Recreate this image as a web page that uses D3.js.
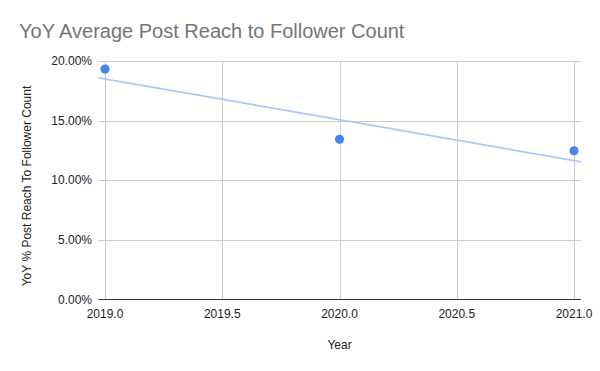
<!DOCTYPE html>
<html>
<head>
<meta charset="utf-8">
<script src="https://cdn.jsdelivr.net/npm/d3@7"></script>
<style>
  body { margin: 0; background: #fff; }
  text { font-family: "Liberation Sans", Arial, sans-serif; }
</style>
</head>
<body>
<div id="chart"></div>
<script>
// data
var years = [2019, 2020, 2021];
var reach = [0.1932, 0.1343, 0.1247];
var xTicks = [2019, 2019.5, 2020, 2020.5, 2021];
var yTicks = [0, 0.05, 0.10, 0.15, 0.20];

var width = 600, height = 371;

// plot area (avoid "top" - it clashes with window.top)
var plotLeft = 105, plotRight = 574, plotTop = 61, plotBottom = 299.5;
var gridLeft = 98.5, gridRight = 581;

var x = d3.scaleLinear().domain([2019, 2021]).range([plotLeft, plotRight]);
var y = d3.scaleLinear().domain([0, 0.20]).range([plotBottom, plotTop]);

var svg = d3.select("#chart").append("svg")
    .attr("width", width)
    .attr("height", height);

// title
svg.append("text")
    .attr("x", 19)
    .attr("y", 38)
    .style("font-size", "20px")
    .style("fill", "#757575")
    .text("YoY Average Post Reach to Follower Count");

// horizontal gridlines
svg.selectAll(".hgrid")
    .data(yTicks.filter(function(d) { return d > 0; }))
    .enter().append("line")
    .attr("x1", gridLeft).attr("x2", gridRight)
    .attr("y1", function(d) { return Math.round(y(d)) + 0.5; })
    .attr("y2", function(d) { return Math.round(y(d)) + 0.5; })
    .style("stroke", "#cccccc");

// vertical gridlines
svg.selectAll(".vgrid")
    .data(xTicks)
    .enter().append("line")
    .attr("x1", function(d) { return Math.round(x(d)) + 0.5; })
    .attr("x2", function(d) { return Math.round(x(d)) + 0.5; })
    .attr("y1", plotTop)
    .attr("y2", plotBottom)
    .style("stroke", "#cccccc");

// baseline
svg.append("line")
    .attr("x1", gridLeft).attr("x2", gridRight)
    .attr("y1", Math.round(y(0)) - 0.5).attr("y2", Math.round(y(0)) - 0.5)
    .style("stroke", "#333333");

// y tick labels
svg.selectAll(".ylab")
    .data(yTicks)
    .enter().append("text")
    .attr("x", 92)
    .attr("y", function(d) { return y(d) + 4; })
    .attr("text-anchor", "end")
    .style("font-size", "12px")
    .style("fill", "#222")
    .text(function(d) { return d3.format(".2%")(d); });

// x tick labels
svg.selectAll(".xlab")
    .data(xTicks)
    .enter().append("text")
    .attr("x", function(d) { return x(d); })
    .attr("y", 318)
    .attr("text-anchor", "middle")
    .style("font-size", "12px")
    .style("fill", "#222")
    .text(function(d) { return d3.format(".1f")(d); });

// axis titles
svg.append("text")
    .attr("x", x(2020))
    .attr("y", 349)
    .attr("text-anchor", "middle")
    .style("font-size", "12px")
    .style("fill", "#222")
    .text("Year");

svg.append("text")
    .attr("transform", "translate(31,186) rotate(-90)")
    .attr("text-anchor", "middle")
    .style("font-size", "12px")
    .style("fill", "#222")
    .text("YoY % Post Reach To Follower Count");

// linear trendline (least squares on the points)
var mx = d3.mean(years), my = d3.mean(reach);
var slope = d3.sum(years, function(d, i) { return (d - mx) * (reach[i] - my); }) /
            d3.sum(years, function(d) { return (d - mx) * (d - mx); });
var intercept = my - slope * mx;
var x0 = x.invert(gridLeft), x1 = x.invert(gridRight);

svg.append("line")
    .attr("x1", x(x0)).attr("y1", y(intercept + slope * x0))
    .attr("x2", x(x1)).attr("y2", y(intercept + slope * x1))
    .style("stroke", "#a9c8fa")
    .style("stroke-width", 1.8);

// points
svg.selectAll(".dot")
    .data(years)
    .enter().append("circle")
    .attr("cx", function(d) { return x(d); })
    .attr("cy", function(d, i) { return y(reach[i]); })
    .attr("r", 4.6)
    .style("fill", "#4285f4");
</script>
</body>
</html>
